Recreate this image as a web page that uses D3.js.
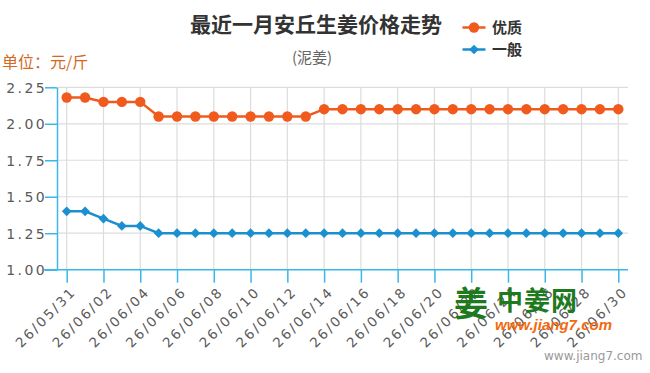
<!DOCTYPE html>
<html><head><meta charset="utf-8">
<script src="https://cdn.jsdelivr.net/npm/d3@7"></script>
<style>
html,body{margin:0;padding:0;background:#fff;}
svg{display:block;}
</style></head>
<body>
<svg id="c" width="650" height="373"></svg>
<script>
const dates = ["26/05/31","26/06/01","26/06/02","26/06/03","26/06/04","26/06/05","26/06/06","26/06/07","26/06/08","26/06/09","26/06/10","26/06/11","26/06/12","26/06/13","26/06/14","26/06/15","26/06/16","26/06/17","26/06/18","26/06/19","26/06/20","26/06/21","26/06/22","26/06/23","26/06/24","26/06/25","26/06/26","26/06/27","26/06/28","26/06/29","26/06/30"];
const premium = [2.18,2.18,2.15,2.15,2.15,2.05,2.05,2.05,2.05,2.05,2.05,2.05,2.05,2.05,2.10,2.10,2.10,2.10,2.10,2.10,2.10,2.10,2.10,2.10,2.10,2.10,2.10,2.10,2.10,2.10,2.10];
const general = [1.40,1.40,1.35,1.30,1.30,1.25,1.25,1.25,1.25,1.25,1.25,1.25,1.25,1.25,1.25,1.25,1.25,1.25,1.25,1.25,1.25,1.25,1.25,1.25,1.25,1.25,1.25,1.25,1.25,1.25,1.25];
const yTicks = [1.00,1.25,1.50,1.75,2.00,2.25];
const seriesNames = ["优质","一般"];
const title = "最近一月安丘生姜价格走势";
const subtitle = "(泥姜)";
const unitLabel = "单位：元/斤";

const svg = d3.select("#c");
const orange = "#f05a1c", blue = "#1b8fcf", axisC = "#3cb6ea", gridC = "#dcdcdc", tickTxt = "#5a5a5a";
const x = d3.scaleLinear().domain([0, dates.length-1]).range([66.7, 618.3]);
const y = d3.scaleLinear().domain([1, 2.25]).range([269.7, 87.3]);
const xLeft = 57, xRight = 628;
const evenIdx = d3.range(0, dates.length, 2);

// grid
const g = svg.append("g");
g.selectAll("line.h").data(yTicks.slice(1)).join("line")
  .attr("x1", xLeft).attr("x2", xRight).attr("y1", d=>y(d)).attr("y2", d=>y(d))
  .attr("stroke", gridC).attr("stroke-width", 1.2);
g.selectAll("line.v").data(evenIdx).join("line")
  .attr("x1", d=>x(d)).attr("x2", d=>x(d)).attr("y1", y(2.25)).attr("y2", y(1))
  .attr("stroke", gridC).attr("stroke-width", 1.2);

// x axis
const xAxis = d3.axisBottom(x).tickValues(evenIdx).tickSizeInner(13).tickSizeOuter(0).tickFormat(i=>dates[i]);
const xg = svg.append("g").attr("transform", `translate(0,${y(1)})`).call(xAxis);
xg.select(".domain").remove();
xg.append("line").attr("x1", 44).attr("x2", xRight).attr("stroke", axisC).attr("stroke-width", 1.5);
xg.selectAll(".tick line").attr("stroke", axisC).attr("stroke-width", 1.5);
xg.selectAll(".tick text")
  .attr("fill", tickTxt).attr("font-family", "DejaVu Sans").attr("font-size", 13.5)
  .attr("letter-spacing", 2.3)
  .attr("text-anchor", "end").attr("dy", "0.3em").attr("x", 0).attr("y", 0)
  .attr("transform", "translate(7,20) rotate(-45)");

// y axis
const yAxis = d3.axisLeft(y).tickValues(yTicks).tickSizeInner(12).tickSizeOuter(0).tickFormat(d3.format(".2f"));
const yg = svg.append("g").attr("transform", `translate(${xLeft},0)`).call(yAxis);
yg.select(".domain").attr("stroke", axisC).attr("stroke-width", 1.5);
yg.selectAll(".tick line").attr("stroke", axisC).attr("stroke-width", 1.5);
yg.selectAll(".tick text").attr("fill", tickTxt).attr("font-family", "DejaVu Sans").attr("font-size", 14)
  .attr("letter-spacing", 2.4).attr("x", -10).attr("dy", "0.36em");

// lines
const line = d3.line().x((d,i)=>x(i)).y(d=>y(d));
svg.append("path").datum(general).attr("d", line).attr("fill","none").attr("stroke", blue).attr("stroke-width", 2.5);
svg.append("path").datum(premium).attr("d", line).attr("fill","none").attr("stroke", orange).attr("stroke-width", 2.5);
const diamond = d3.symbol().type(d3.symbolDiamond2).size(60);
svg.append("g").selectAll("path").data(general).join("path")
  .attr("d", diamond).attr("transform", (d,i)=>`translate(${x(i)},${y(d)})`).attr("fill", blue);
svg.append("g").selectAll("circle").data(premium).join("circle")
  .attr("cx", (d,i)=>x(i)).attr("cy", d=>y(d)).attr("r", 5.2).attr("fill", orange);

// titles
svg.append("text").attr("x", 316).attr("y", 32).attr("text-anchor","middle")
  .attr("font-family","Noto Sans CJK SC").attr("font-weight","bold").attr("font-size", 21).attr("fill","#333").text(title);
svg.append("text").attr("x", 312).attr("y", 63).attr("text-anchor","middle")
  .attr("font-family","Noto Sans CJK SC").attr("font-size", 15).attr("fill","#666").text(subtitle);
svg.append("text").attr("x", 2).attr("y", 68)
  .attr("font-family","Noto Sans CJK SC").attr("font-size", 16).attr("fill","#d2691e").text(unitLabel);

// legend
const leg = svg.append("g");
const legColors = [orange, blue];
seriesNames.forEach((n, i) => {
  const ly = 27.5 + i*22;
  leg.append("line").attr("x1", 462.5).attr("x2", 485.5).attr("y1", ly).attr("y2", ly).attr("stroke", legColors[i]).attr("stroke-width", 2.5);
  if (i === 0) leg.append("circle").attr("cx", 474).attr("cy", ly).attr("r", 5.2).attr("fill", orange);
  else leg.append("path").attr("d", diamond).attr("transform", `translate(474,${ly})`).attr("fill", blue);
  leg.append("text").attr("x", 492).attr("y", ly + 5.5).attr("font-family","Noto Sans CJK SC").attr("font-weight","bold")
    .attr("font-size", 15).attr("fill","#333").text(n);
});

// watermark
const wm = svg.append("g");
wm.append("text").attr("x", 454).attr("y", 316).attr("font-family","Noto Sans CJK SC").attr("font-weight","bold")
  .attr("font-size", 34).attr("fill","#1d7a1d").text("姜");
wm.append("text").attr("x", 497).attr("y", 310).attr("font-family","Noto Sans CJK SC").attr("font-weight","bold")
  .attr("font-size", 26).attr("fill","#1d7a1d").attr("letter-spacing", 1).text("中姜网");
wm.append("text").attr("x", 495).attr("y", 330).attr("font-family","Liberation Sans").attr("font-weight","bold").attr("font-style","italic")
  .attr("font-size", 15).attr("fill","#f26a10").text("www.jiang7.com");
wm.append("text").attr("x", 544).attr("y", 360).attr("font-family","DejaVu Sans")
  .attr("font-size", 12).attr("fill","#999").text("www.jiang7.com");
</script>
</body></html>
